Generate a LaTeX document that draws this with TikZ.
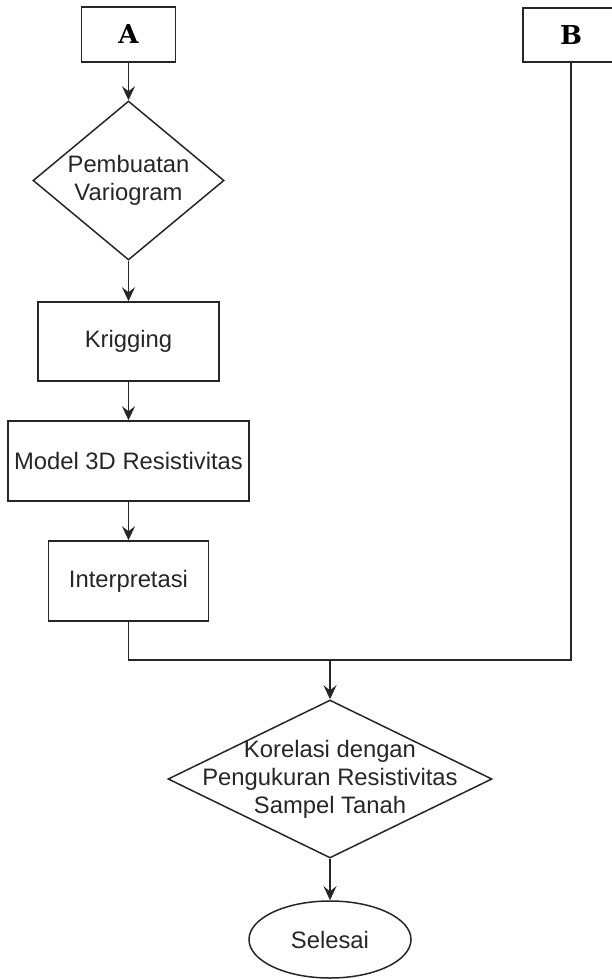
\documentclass[tikz,border=0pt]{standalone}
\usepackage{fontspec}
\setmainfont{Liberation Sans}
\newfontfamily\lettfont{DejaVu Serif}
\usetikzlibrary{shapes.geometric,arrows.meta}
\begin{document}
\begin{tikzpicture}[x=1pt,y=-1pt,
  every node/.style={font=\fontsize{23.8}{28}\selectfont, align=center, inner sep=0pt, text=black!85},
  ln/.style={line width=1.5pt, draw=black!85},
  box/.style={ln, rectangle},
  letterbox/.style={box, text=black, font=\lettfont\bfseries\fontsize{26}{30}\selectfont},
  dia/.style={ln, diamond},
  oval/.style={ln, ellipse},
  arr/.style={ln, -{Stealth[length=14pt,width=13pt,inset=5pt]}}]
\useasboundingbox (0,0) rectangle (612,979);
\node[letterbox, minimum width=94pt, minimum height=55pt] (A) at (128.5,34.5) {A};
\node[letterbox, minimum width=96pt, minimum height=54pt] (B) at (571,35) {B};
\node[dia, minimum width=191pt, minimum height=159pt,
      label={[align=center]center:Pembuatan\\Variogram}] (D1) at (128.5,180.5) {};
\node[box, minimum width=181pt, minimum height=79pt] (K) at (128.5,341.5) {Krigging};
\node[box, minimum width=241pt, minimum height=80pt] (M) at (128.5,461) {Model 3D Resistivitas};
\node[box, minimum width=160pt, minimum height=80pt] (I) at (128.5,581) {Interpretasi};
\coordinate (J) at (330,660);
\node[dia, minimum width=324pt, minimum height=158pt,
      label={[align=center]center:Korelasi dengan\\Pengukuran Resistivitas\\Sampel Tanah}] (D2) at (330,779) {};
\node[oval, minimum width=162pt, minimum height=77pt] (E) at (330,939.5) {Selesai};
\draw[arr] (A.south) -- (D1.north);
\draw[arr] (D1.south) -- (K.north);
\draw[arr] (K.south) -- (M.north);
\draw[arr] (M.south) -- (I.north);
\draw[ln] (I.south) |- (J);
\draw[ln] (B.south) |- (J);
\draw[arr] (J) -- (D2.north);
\draw[arr] (D2.south) -- (E.north);
\end{tikzpicture}
\end{document}
